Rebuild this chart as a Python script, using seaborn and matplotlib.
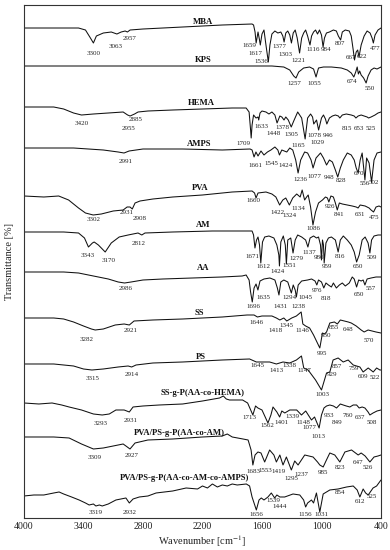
import numpy as np
import pandas as pd
import seaborn as sns
import matplotlib
matplotlib.use("Agg")
import matplotlib.pyplot as plt

# stacked FTIR traces: wavenumber (cm-1) and offset transmittance (a.u.)
mba_wn = [4000,3450,3380,3330,3300,3270,3200,3120,3063,3020,2980,2957,2930,2800,2400,2000,1700,1685,1670,1659,1640,1625,1617,1600,1580,1560,1536,1520,1500,1470,1440,1410,1390,1377,1360,1340,1320,1303,1285,1265,1245,1221,1200,1180,1160,1140,1116,1100,1080,1060,1040,1020,1000,984,970,950,920,880,850,830,807,790,760,720,700,680,667,650,635,622,600,570,540,510,490,477,460,430,400]
mba_t = [490,490,488,480,475,482,485,486,484,486,487,486,488,489,491,493,494,493,486,475,486,478,473,484,488,473,456,473,484,487,485,486,482,476,485,487,483,475,485,488,480,465,480,485,488,482,473,482,486,488,484,488,483,471,480,485,486,488,487,482,478,486,488,487,482,468,458,466,468,461,473,482,487,485,480,475,483,488,490]

kps_wn = [4000,3000,2000,1500,1380,1320,1280,1257,1230,1180,1120,1080,1055,1030,980,900,800,740,700,674,655,640,628,615,600,575,550,530,500,470,440,400]
kps_t = [452,452,452,452,451,448,442,440,446,450,451,449,441,450,451,451,450,448,445,441,446,451,444,447,443,440,435,442,448,450,449,451]

hema_wn = [4000,3700,3600,3500,3420,3300,3150,3000,2955,2930,2885,2850,2750,2500,2200,1900,1760,1730,1715,1709,1700,1685,1660,1640,1633,1620,1600,1560,1530,1500,1470,1448,1420,1400,1378,1360,1335,1305,1280,1240,1200,1165,1140,1110,1090,1078,1050,1029,1000,980,960,946,920,890,860,830,815,790,750,700,670,653,630,600,570,540,525,500,460,430,400]
hema_t = [411,411,409,405,403,404,405,406,403,402,404,406,407,408,409,410,410,406,388,380,393,403,400,401,398,405,407,406,404,406,403,395,402,401,398,401,398,391,397,406,400,379,400,404,401,394,398,388,400,403,399,394,400,402,403,402,400,403,404,403,402,400,402,403,402,401,400,401,403,405,406]

amps_wn = [4000,3500,3200,3050,2991,2940,2800,2400,2000,1720,1700,1680,1661,1640,1610,1580,1545,1510,1470,1440,1424,1400,1350,1320,1290,1260,1236,1210,1170,1140,1105,1085,1055,1010,980,949,920,890,860,836,810,780,740,700,670,650,630,610,590,562,545,520,495,470,440,400]
amps_t = [370,370,368,366,365,367,369,369,368,369,368,361,366,362,367,363,366,368,371,368,363,368,366,370,368,358,345,358,366,365,358,350,360,365,360,353,358,356,348,341,350,358,365,363,358,350,345,358,365,338,360,355,336,358,365,366]

pva_wn = [4000,3800,3650,3550,3450,3380,3302,3220,3100,3000,2960,2931,2908,2880,2830,2700,2500,2200,1900,1700,1675,1660,1640,1560,1500,1460,1422,1390,1360,1324,1290,1250,1215,1195,1170,1150,1134,1110,1086,1060,1030,990,960,940,926,905,880,860,841,820,790,740,690,650,631,610,560,520,500,475,450,420,400]
pva_t = [322,321,322,318,310,305,303,304,307,308,311,311,309,315,317,319,321,323,326,327,325,320,325,326,324,321,313,318,320,313,320,324,321,328,318,321,323,311,293,306,315,318,321,320,316,322,321,315,308,315,314,313,312,311,310,313,312,310,308,306,311,312,311]

am_wn = [4000,3600,3450,3390,3350,3310,3292,3250,3181,3120,3040,2950,2850,2812,2780,2500,2100,1750,1700,1685,1671,1655,1640,1625,1612,1595,1573,1530,1480,1450,1430,1424,1410,1385,1365,1354,1340,1310,1287,1265,1240,1200,1160,1137,1115,1080,1050,1030,1010,1000,990,980,973,955,930,900,860,832,810,780,740,700,670,646,620,590,560,530,512,495,470,430,400]
am_t = [286,286,285,280,271,275,276,273,266,275,281,283,285,283,285,286,287,287,287,283,270,278,281,273,255,276,281,282,280,273,263,252,276,282,273,254,278,280,265,278,283,281,278,271,280,282,280,281,273,258,278,273,255,275,280,281,278,266,278,282,278,273,266,256,263,278,281,275,265,278,282,283,283]

aa_wn = [4000,3600,3450,3300,3150,3050,2986,2920,2800,2600,2300,2000,1800,1760,1730,1715,1698,1680,1660,1641,1620,1580,1520,1470,1445,1429,1410,1380,1340,1304,1285,1265,1253,1235,1200,1140,1100,1065,1047,1030,1000,977,955,930,900,880,850,820,790,760,720,690,670,646,625,600,580,562,540,500,450,400]
aa_t = [246,246,245,242,239,236,235,236,238,239,240,241,242,243,238,226,216,230,234,228,237,239,240,238,230,223,236,238,236,225,233,228,221,233,237,238,239,237,233,238,236,230,235,233,231,235,230,233,235,232,235,241,239,231,238,237,238,233,239,240,241,241]

ss_wn = [4000,3700,3600,3500,3400,3320,3282,3200,3080,2990,2938,2890,2700,2400,2000,1750,1680,1646,1600,1500,1455,1420,1380,1350,1300,1253,1205,1188,1160,1120,1080,1017,990,970,949,916,870,840,810,770,730,700,650,600,570,530,490,450,400]
ss_t = [200,200,199,196,192,189,188,189,193,194,193,197,198,199,201,203,203,201,202,202,200,198,200,197,200,202,206,194,192,190,183,170,185,184,186,195,196,194,198,197,196,195,192,188,186,188,187,186,185]

ps_wn = [4000,3700,3500,3400,3315,3200,3050,2950,2914,2870,2700,2400,2000,1725,1657,1523,1455,1388,1320,1253,1202,1179,1135,1060,1000,949,916,883,832,781,731,680,613,580,529,478,444,411,400]
ps_t = [154,154,152,149,148,149,151,152,151,153,155,156,158,159,156,156,154,156,155,158,162,150,148,138,128,145,146,158,160,156,158,153,151,146,150,146,150,148,148]

ssg_wn = [4000,3850,3717,3620,3545,3420,3300,3211,3140,3073,2990,2938,2900,2800,2635,2400,2200,2028,1990,1960,1927,1796,1745,1692,1665,1641,1600,1540,1510,1489,1450,1422,1400,1370,1320,1250,1202,1159,1101,1070,1024,1000,975,949,916,880,848,810,781,750,714,680,646,620,590,562,530,512,480,440,400]
ssg_t = [115,114,115,113,111,108,104,103,104,108,108,106,111,112,113,114,117,120,122,119,118,118,115,103,112,110,108,95,103,111,106,101,107,105,108,108,103,107,98,101,90,103,110,112,113,112,110,114,113,112,111,113,113,110,111,110,106,103,105,107,108]

pvam_wn = [4000,3800,3700,3545,3420,3300,3200,3100,3000,2972,2931,2880,2750,2500,2200,2000,1950,1900,1792,1740,1710,1692,1670,1641,1610,1573,1523,1480,1455,1420,1388,1354,1304,1270,1236,1169,1085,1040,1017,983,950,916,866,815,764,697,630,600,560,512,470,430,400]
pvam_t = [81,81,81,80,74,69,70,72,74,72,69,75,78,79,81,82,84,81,79,78,68,53,63,66,65,56,68,63,56,63,53,61,48,57,53,63,61,56,53,51,58,65,63,56,66,68,63,65,62,56,61,62,63]

pvamp_wn = [4000,3900,3800,3700,3646,3600,3520,3444,3380,3343,3300,3275,3240,3211,3150,3073,2972,2938,2900,2837,2750,2668,2500,2365,2250,2200,2150,2100,2050,2000,1950,1900,1850,1758,1725,1700,1657,1630,1607,1580,1540,1506,1472,1450,1420,1371,1287,1219,1180,1160,1140,1101,1080,1051,1017,983,916,832,747,680,640,613,580,555,529,480,444,400]
pvamp_t = [22,23,23,25,26,24,21,18,15,13,14,12,13,12,14,18,20,15,19,21,22,25,27,30,29,32,30,34,31,33,32,34,33,34,32,21,8,18,20,18,21,25,20,23,21,21,24,23,18,11,15,18,15,25,6,24,28,29,31,32,28,21,29,25,23,30,32,38]

samples = ["MBA", "KPS", "HEMA", "AMPS", "PVA", "AM", "AA", "SS", "PS",
           "SS-g-P(AA-co-HEMA)", "PVA/PS-g-P(AA-co-AM)", "PVA/PS-g-P(AA-co-AM-co-AMPS)"]
traces = [(mba_wn, mba_t), (kps_wn, kps_t), (hema_wn, hema_t), (amps_wn, amps_t),
          (pva_wn, pva_t), (am_wn, am_t), (aa_wn, aa_t), (ss_wn, ss_t), (ps_wn, ps_t),
          (ssg_wn, ssg_t), (pvam_wn, pvam_t), (pvamp_wn, pvamp_t)]

# sample name positions (wavenumber, level)
name_pos = [(2197, 496), (2197, 458), (2213, 415), (2231, 374), (2220, 330), (2190, 293),
            (2197, 250), (2237, 205), (2220, 161), (2197, 125), (2433, 85), (2382, 40)]

# peak annotations: text, wavenumber position, level
peak_labels = [
    ("3300",3299,465),("3063",3073,472),("2957",2938,480),("1659",1725,473),("1617",1664,465),
    ("1536",1607,457),("1377",1422,472),("1303",1361,464),("1221",1237,458),("1116",1085,469),
    ("984",956,469),("807",815,475),("667",704,461),("622",596,462),("477",461,470),
    ("1257",1270,435),("1055",1068,435),("674",687,437),("550",512,430),
    ("3420",3417,395),("2885",2878,399),("2955",2945,390),("1709",1783,375),("1633",1607,392),
    ("1448",1480,385),("1378",1394,391),("1305",1300,384),("1165",1237,373),("1078",1068,383),
    ("1029",1037,376),("946",936,383),("815",747,390),("653",620,390),("525",505,390),
    ("2991",2972,357),("1661",1666,353),("1545",1506,355),("1424",1358,353),("1236",1216,338),
    ("1077",1068,341),("948",924,340),("828",806,337),("670",622,345),("556",566,334),("502",470,335),
    ("3302",3302,298),("2931",2966,305),("2908",2830,299),("1660",1690,317),("1422",1447,305),
    ("1324",1325,302),("1134",1231,309),("1086",1085,289),("926",911,311),("841",823,303),
    ("631",608,303),("475",470,300),
    ("3343",3360,262),("3170",3148,257),("2812",2844,274),("1671",1695,261),("1612",1585,251),
    ("1424",1445,246),("1351",1325,252),("1279",1255,259),("1137",1120,265),("986",1030,260),
    ("959",949,251),("816",815,261),("650",630,251),("509",490,260),
    ("2986",2979,229),("1696",1690,211),("1635",1590,220),("1431",1415,211),("1294",1320,220),
    ("1238",1228,211),("1045",1160,220),("976",1048,227),("818",950,219),("650",625,223),("557",507,229),
    ("3282",3370,178),("2921",2928,187),("1646",1657,195),("1418",1463,187),("1345",1354,192),
    ("1146",1197,187),("995",1000,164),("930",953,182),("855",878,190),("648",730,188),("570",522,177),
    ("3315",3309,139),("2914",2911,143),("1645",1641,152),("1413",1455,147),("1338",1320,152),
    ("1147",1169,147),("1003",990,123),("929",899,143),("857",848,151),("759",673,149),
    ("609",580,141),("522",461,140),
    ("3293",3224,94),("2931",2921,97),("1713",1725,100),("1562",1546,92),("1401",1404,95),
    ("1339",1293,101),("1148",1186,95),("1077",1118,90),("1013",1034,81),("933",923,102),
    ("849",848,95),("760",731,102),("637",613,100),("508",495,95),
    ("3309",3292,60),("2927",2911,62),("1683",1691,46),("1553",1563,47),("1419",1429,46),
    ("1295",1303,39),("1237",1202,43),("985",990,45),("823",815,50),("647",630,55),("526",529,50),
    ("3319",3275,5),("2932",2938,5),("1656",1657,3),("1539",1489,17),("1444",1422,11),
    ("1156",1160,3),("1031",1003,3),("854",815,25),("612",613,16),("525",495,21),
]

frames = []
for name, (wn, t) in zip(samples, traces):
    frames.append(pd.DataFrame({"Wavenumber": wn, "T": t, "Sample": name}))
df = pd.concat(frames, ignore_index=True)

sns.set_theme(style="white")
plt.rcParams["font.family"] = ["Liberation Serif", "DejaVu Serif"]
plt.rcParams["mathtext.fontset"] = "stix"

fig = plt.figure(figsize=(3.9, 5.5), dpi=100)
ax = fig.add_axes([0.0615, 0.0582, 0.9154, 0.9327])
sns.lineplot(data=df, x="Wavenumber", y="T", hue="Sample", units="Sample",
             palette=["#111111"] * len(samples), estimator=None, sort=False,
             legend=False, linewidth=0.75, ax=ax)

for name, (x, y) in zip(samples, name_pos):
    ax.text(x, y, name, ha="center", va="center", fontsize=6.2, fontweight="bold", color="#111111")
for lab, x, y in peak_labels:
    ax.text(x, y, lab, ha="center", va="center", fontsize=5.0, color="#222222", clip_on=False)

ax.set_xlim(4000, 400)
ax.set_ylim(0, 513)
ax.set_xticks([4000, 3400, 2800, 2200, 1600, 1000, 400])
ax.set_yticks([])
ax.tick_params(axis="x", length=0, pad=3, labelsize=7, colors="#222222")
ax.set_xlabel("Wavenumber [cm$^{-1}$]", fontsize=7.5, labelpad=1.5, color="#222222")
ax.set_ylabel("Transmittance [%]", fontsize=7.5, labelpad=7.5, color="#222222")
for s in ax.spines.values():
    s.set_linewidth(0.8)
    s.set_color("#333333")

fig.savefig("out.png", dpi=100)
